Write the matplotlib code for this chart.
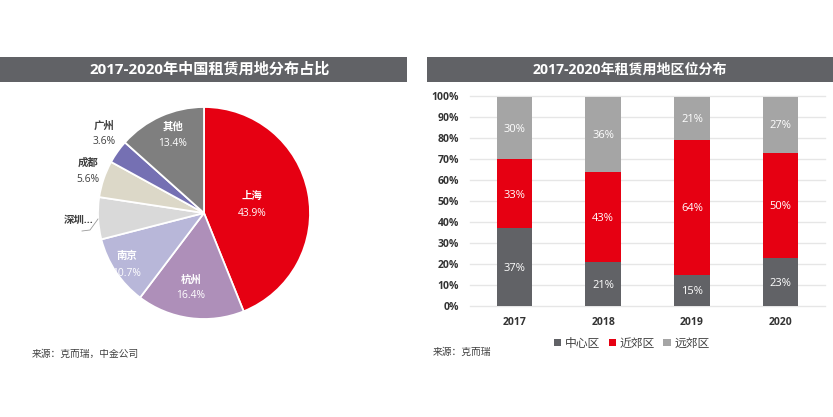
import matplotlib
matplotlib.use('Agg')
import matplotlib.pyplot as plt
from matplotlib.patches import Rectangle

plt.rcParams['font.family'] = ['Open Sans', 'Noto Sans CJK SC', 'DejaVu Sans']

W, H = 833, 417

# pie data
cities = ['上海', '杭州', '南京', '深圳', '成都', '广州', '其他']
shares = [43.9, 16.4, 10.7, 6.4, 5.6, 3.6, 13.4]
share_labels = ['43.9%', '16.4%', '10.7%', '', '5.6%', '3.6%', '13.4%']
pie_colors = ['#e60012', '#ae8fb9', '#b8b7d9', '#d9d9d9', '#dcd8c8', '#7570b3', '#7f7f7f']

# stacked bar data
years = ['2017', '2018', '2019', '2020']
center = [37, 21, 15, 23]
near = [33, 43, 64, 50]
far = [30, 36, 21, 27]
y_ticks = list(range(0, 101, 10))


def px_axes(fig, x0, y0, x1, y1):
    # pixel box, y measured from the top of the picture
    return fig.add_axes([x0 / W, 1 - y1 / H, (x1 - x0) / W, (y1 - y0) / H])


def header(fig, x0, x1, text, text_x, size):
    fig.add_artist(Rectangle((x0 / W, 1 - 82 / H), (x1 - x0) / W, 25 / H,
                             transform=fig.transFigure, color='#616266', lw=0))
    fig.text(text_x / W, 1 - 69.5 / H, text, color='white', fontsize=size,
             fontweight='bold', ha='center', va='center')


fig = plt.figure(figsize=(W / 100, H / 100), dpi=100)
header(fig, 0, 407, '2017-2020年中国租赁用地分布占比', 210, 10.9)
header(fig, 427, 833, '2017-2020年租赁用地区位分布', 630, 10.1)

# pie
ax = px_axes(fig, 94, 103, 314, 323)
ax.pie(shares, colors=pie_colors, startangle=90, counterclock=False, radius=1,
       wedgeprops={'edgecolor': 'white', 'linewidth': 1.3})
ax.set_xlim(-1.0377, 1.0377)
ax.set_ylim(-1.0377, 1.0377)
ax.set_aspect('equal')


def pie_text(x, y, name, pct, color):
    # positions in figure pixels
    fig.text(x / W, 1 - y / H, name, color=color, fontsize=7.5, fontweight='bold',
             ha='center', va='center')
    if pct:
        fig.text(x / W, 1 - (y + 16) / H, pct, color=color, fontsize=7.4, ha='center', va='center')


label_pos = [(252, 197), (191, 280), (127, 257), (79, 220), (88, 163), (104, 126), (173, 127)]
label_colors = ['white', 'white', 'white', '#404040', '#404040', '#404040', 'white']
for i, name in enumerate(cities):
    pie_text(label_pos[i][0], label_pos[i][1], name if name != '深圳' else '深圳...',
             share_labels[i], label_colors[i])
fig.add_artist(plt.Line2D([82 / W, 90 / W, 98 / W], [1 - 231 / H, 1 - 230 / H, 1 - 219 / H],
                          color='#999999', lw=0.6))

# stacked bars
bx = px_axes(fig, 470, 96.5, 825, 306)
xs = range(len(years))
bottoms2 = [a + b for a, b in zip(center, near)]
b1 = bx.bar(xs, center, width=0.4, color='#616266', label='中心区', zorder=3)
b2 = bx.bar(xs, near, width=0.4, bottom=center, color='#e60012', label='近郊区', zorder=3)
b3 = bx.bar(xs, far, width=0.4, bottom=bottoms2, color='#a5a5a5', label='远郊区', zorder=3)
for bars in (b1, b2, b3):
    bx.bar_label(bars, fmt='%d%%', label_type='center', color='white', fontsize=8, padding=-0.8)
bx.set_xlim(-0.5, 3.5)
bx.set_ylim(0, 100)
bx.set_xticks(list(xs), years, fontsize=7.5, fontweight='bold', color='#333333')
bx.set_yticks(y_ticks, [f'{v}%' for v in y_ticks], fontsize=7.5, fontweight='bold', color='#333333')
bx.tick_params(length=0)
bx.tick_params(axis='x', pad=8)
bx.tick_params(axis='y', pad=8)
bx.grid(axis='y', color='#e6e6e6', lw=1.0, zorder=0)
for s in bx.spines.values():
    s.set_visible(False)
for t in bx.get_ygridlines():
    t.set_clip_on(False)
fig.legend(handles=[b1, b2, b3], loc='center', bbox_to_anchor=(632 / W, 1 - 343 / H), ncol=3,
           frameon=False, fontsize=8.5, handlelength=0.6, handleheight=0.6, handletextpad=0.35,
           columnspacing=0.7, labelcolor='#404040')

fig.text(32 / W, 1 - 354 / H, '来源：克而瑞，中金公司', fontsize=7, style='italic', color='#404040',
         ha='left', va='center')
fig.text(433 / W, 1 - 352 / H, '来源：克而瑞', fontsize=7, style='italic', color='#404040',
         ha='left', va='center')

fig.savefig('out.png', dpi=100)
